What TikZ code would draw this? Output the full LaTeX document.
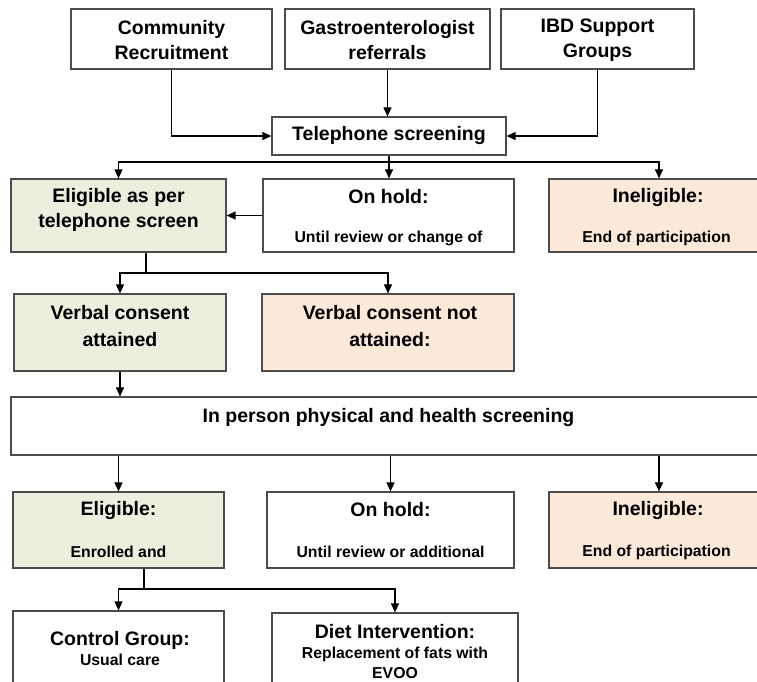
\documentclass[tikz,border=0pt]{standalone}
\usepackage{fontspec}
\setmainfont{Liberation Sans}
\usetikzlibrary{arrows.meta}
\definecolor{okgreen}{RGB}{235,240,222}
\definecolor{nopeach}{RGB}{253,233,218}
\tikzset{
    BX/.style ={rectangle, draw=black!70, line width=1.2pt, inner sep=0pt},
    BG/.style ={BX, fill=okgreen},
    BP/.style ={BX, fill=nopeach},
    TT/.style ={font=\bfseries\fontsize{19.5}{25}\selectfont, align=center, inner sep=0pt},
    TS/.style ={font=\bfseries\fontsize{15.8}{20}\selectfont, align=center, inner sep=0pt},
    AR/.style ={-{Triangle[length=9pt,width=8pt]}, line width=1.1pt},
    LN/.style ={line width=1.1pt}}

\begin{document}
\begin{tikzpicture}[x=1pt,y=-1pt]
        \useasboundingbox (0,0) rectangle (757,681);
        \clip (0,0) rectangle (757,681);
        % boxes
        \node[BX, minimum width=201, minimum height=60] (1) at(171.5,39){};
        \node[BX, minimum width=205, minimum height=60] (2) at(387.5,39){};
        \node[BX, minimum width=193, minimum height=60] (3) at(597.5,39){};
        \node[BX, minimum width=234, minimum height=38] (4) at(389,136){};
        \node[BG, minimum width=215, minimum height=73] (5) at(118.5,215.5){};
        \node[BX, minimum width=251, minimum height=73] (6) at(388.5,215.5){};
        \node[BP, minimum width=220, minimum height=73] (7) at(659,215.5){};
        \node[BG, minimum width=212, minimum height=77] (8) at(120,332.5){};
        \node[BP, minimum width=252, minimum height=77] (9) at(388,332.5){};
        \node[BX, minimum width=755, minimum height=58] (10) at(388.5,426){};
        \node[BG, minimum width=211, minimum height=76] (11) at(118.5,530){};
        \node[BX, minimum width=247, minimum height=76] (12) at(390.5,530){};
        \node[BP, minimum width=220, minimum height=76] (13) at(659,530){};
        \node[BX, minimum width=211, minimum height=89] (14) at(118.5,655.5){};
        \node[BX, minimum width=246, minimum height=87] (15) at(395,656.5){};
        % texts
        \node[TT] (ta) at(171.5,40.5) {Community\\Recruitment};
        \node[TT] (tb) at(387.5,40.5) {Gastroenterologist\\referrals};
        \node[TT] (tc) at(597.5,40.5) {IBD Support\\Groups};
        \node[TT] (td) at(389,135) {Telephone screening};
        \node[TT] (te) at(118.5,209.5) {Eligible as per\\telephone screen};
        \node[TT] (tf) at(388.5,197) {On hold:};
        \node[TS] (sf) at(388.5,238) {Until review or change of};
        \node[TT] (tg) at(658,197) {Ineligible:};
        \node[TS] (sg) at(656.5,238) {End of participation};
        \node[TT] (th) at(120,326.5) {Verbal consent\\[2pt]attained};
        \node[TT] (ti) at(390,326.5) {Verbal consent not\\[2pt]attained:};
        \node[TT] (tj) at(388.5,417) {In person physical and health screening};
        \node[TT] (tk) at(118.5,510) {Eligible:};
        \node[TS] (sk) at(118.5,552) {Enrolled and};
        \node[TT] (tl) at(390.5,510) {On hold:};
        \node[TS] (sl) at(390.5,552) {Until review or additional};
        \node[TT] (tm) at(658,510) {Ineligible:};
        \node[TS] (sm) at(656.5,552) {End of participation};
        \node[TT] (tn) at(120,640) {Control Group:};
        \node[TS] (sn) at(120,660) {Usual care};
        \node[TT] (to) at(395,632) {Diet Intervention:};
        \node[TS] (so) at(395,663) {Replacement of fats with\\EVOO};
        % connectors
        \coordinate (f1) at(389,162);
        \coordinate (f2) at(146,273);
        \coordinate (f3) at(144,589);
        \draw[AR] (1.south) |- (4.west);
        \draw[AR] (2.south) -- (2.south |- 4.north);
        \draw[AR] (3.south) |- (4.east);
        \draw[LN] (4.south) -- (f1);
        \draw[AR] (f1) -| (5.north);
        \draw[AR] (4.south) -- (4.south |- 6.north);
        \draw[AR] (f1) -| (7.north);
        \draw[AR] (6.west) -- (5.east);
        \draw[LN] (5.south -| f2) -- (f2);
        \draw[AR] (f2) -| (8.north);
        \draw[AR] (f2) -| (9.north);
        \draw[AR] (8.south) -- (8.south |- 10.north);
        \draw[AR] (11.north |- 10.south) -- (11.north);
        \draw[AR] (12.north |- 10.south) -- (12.north);
        \draw[AR] (13.north |- 10.south) -- (13.north);
        \draw[LN] (11.south -| f3) -- (f3);
        \draw[AR] (f3) -| (14.north);
        \draw[AR] (f3) -| (15.north);
    \end{tikzpicture}
\end{document}
